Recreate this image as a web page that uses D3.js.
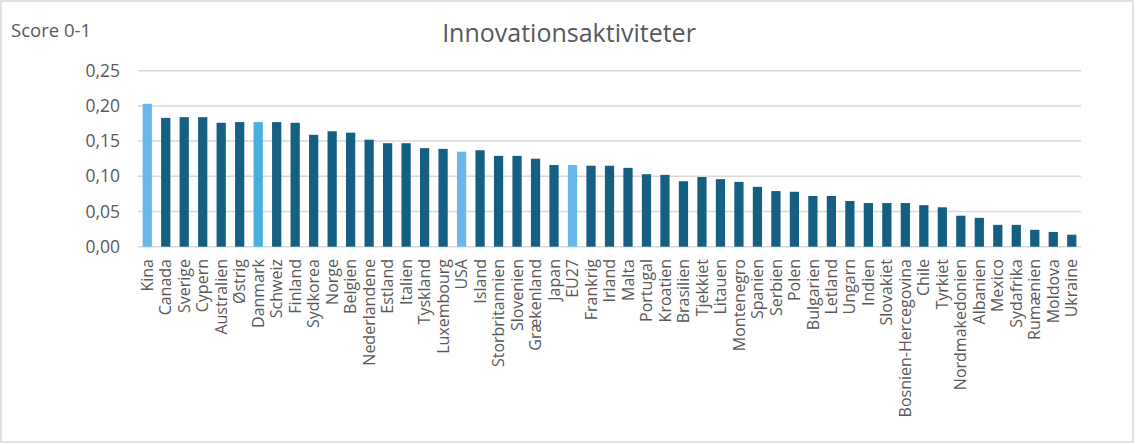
<!DOCTYPE html>
<html>
<head>
<meta charset="utf-8">
<script src="https://cdn.jsdelivr.net/npm/d3@7"></script>
<style>
  html, body { margin: 0; padding: 0; background: #fff; }
  svg { display: block; font-family: "Open Sans", sans-serif; }
</style>
</head>
<body>
<svg id="chart" width="1136" height="444"></svg>
<script>
const categories = ["Kina","Canada","Sverige","Cypern","Australien","Østrig","Danmark","Schweiz","Finland","Sydkorea","Norge","Belgien","Nederlandene","Estland","Italien","Tyskland","Luxembourg","USA","Island","Storbritannien","Slovenien","Grækenland","Japan","EU27","Frankrig","Irland","Malta","Portugal","Kroatien","Brasilien","Tjekkiet","Litauen","Montenegro","Spanien","Serbien","Polen","Bulgarien","Letland","Ungarn","Indien","Slovakiet","Bosnien-Hercegovina","Chile","Tyrkiet","Nordmakedonien","Albanien","Mexico","Sydafrika","Rumænien","Moldova","Ukraine"];
const values = [0.203,0.183,0.184,0.184,0.176,0.177,0.177,0.177,0.176,0.159,0.164,0.162,0.152,0.147,0.147,0.140,0.139,0.135,0.137,0.129,0.129,0.125,0.116,0.116,0.115,0.115,0.112,0.103,0.102,0.093,0.099,0.096,0.092,0.085,0.079,0.078,0.072,0.072,0.065,0.062,0.062,0.062,0.059,0.056,0.044,0.041,0.031,0.031,0.024,0.021,0.017];
const highlight = {"Kina":"light","USA":"light","EU27":"light","Danmark":"dk"};
const yTicks = [0,0.05,0.10,0.15,0.20,0.25];
const title = "Innovationsaktiviteter";
const yLabel = "Score 0-1";

const colors = { normal: "#156082", light: "#69B8EC", dk: "#46B1E1" };
const svg = d3.select("#chart");

svg.append("rect").attr("x",1).attr("y",1).attr("width",1132).attr("height",441)
  .attr("fill","#fff").attr("stroke","#D9D9D9").attr("stroke-width",1.5);

const x = d3.scaleBand().domain(categories).range([138,1081]).paddingInner(0.5).paddingOuter(0.25);
const y = d3.scaleLinear().domain([0,0.25]).range([246.7,70.7]);

// gridlines
svg.append("g").selectAll("line").data(yTicks).join("line")
  .attr("x1",138).attr("x2",1081)
  .attr("y1",d=>y(d)).attr("y2",d=>y(d))
  .attr("stroke","#D9D9D9").attr("stroke-width",1.5);

// y tick labels
const fmt = d => d3.format(".2f")(d).replace(".", ",");
svg.append("g").selectAll("text").data(yTicks).join("text")
  .attr("x",120).attr("y",d=>y(d)).attr("dy","0.35em")
  .attr("text-anchor","end").attr("fill","#595959").attr("font-size",17.5)
  .text(fmt);

// bars
svg.append("g").selectAll("rect").data(categories).join("rect")
  .attr("x",d=>x(d)).attr("width",x.bandwidth())
  .attr("y",(d,i)=>y(values[i])).attr("height",(d,i)=>y(0)-y(values[i]))
  .attr("fill",d=>colors[highlight[d]||"normal"]);

// x labels
svg.append("g").selectAll("text").data(categories).join("text")
  .attr("transform",d=>`translate(${x(d)+x.bandwidth()/2},259) rotate(-90)`)
  .attr("dy","0.35em").attr("text-anchor","end")
  .attr("fill","#595959").attr("font-size",16)
  .text(d=>d);

// title
svg.append("text").attr("x",569).attr("y",42).attr("text-anchor","middle")
  .attr("fill","#595959").attr("font-size",25).text(title);

svg.append("text").attr("x",11).attr("y",37)
  .attr("fill","#595959").attr("font-size",18.5).text(yLabel);
</script>
</body>
</html>
